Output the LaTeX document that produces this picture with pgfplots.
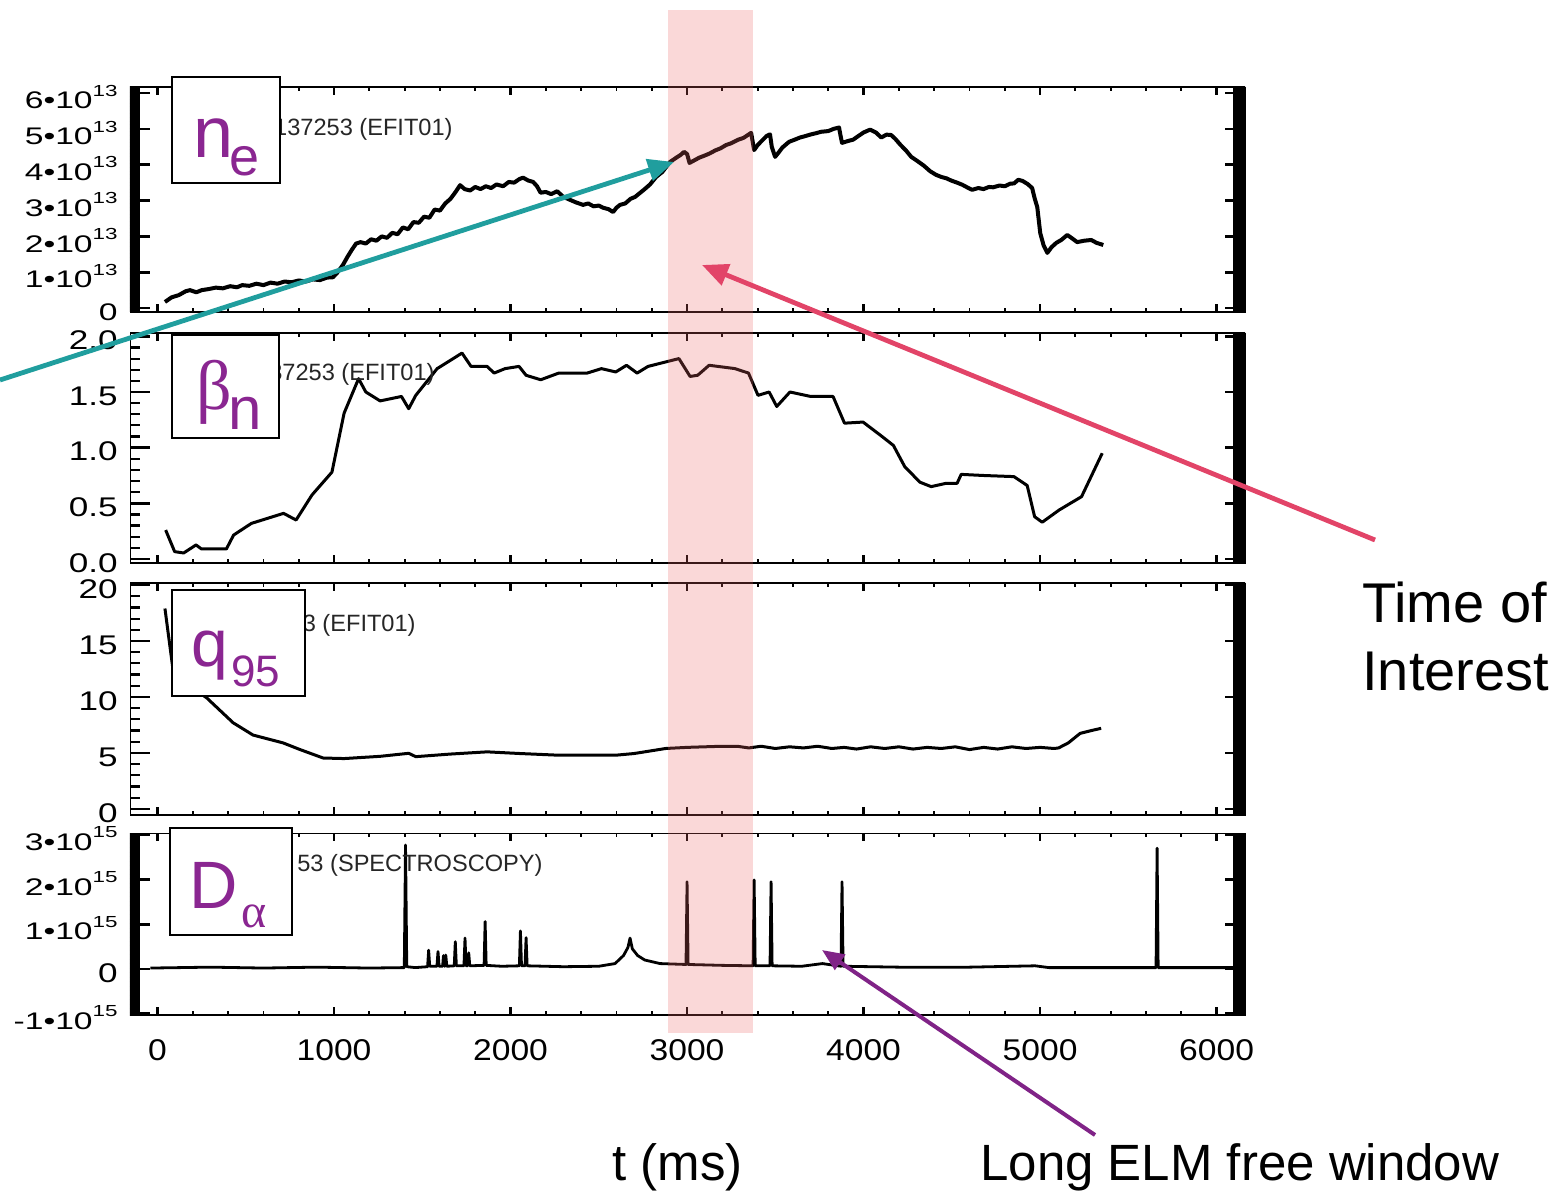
\documentclass[border=0pt]{standalone}
\usepackage{fontspec}
\setmainfont{Liberation Sans}
\newfontfamily\serifgr{Liberation Serif}
\usepackage{graphicx}
\usepackage{pgfplots}
\pgfplotsset{compat=1.18}
\usetikzlibrary{arrows.meta}
\definecolor{lblpurple}{RGB}{138,38,145}
\definecolor{tealarrow}{RGB}{32,158,158}
\definecolor{redarrow}{RGB}{226,68,104}
\definecolor{purparrow}{RGB}{128,35,135}
\definecolor{bandcol}{RGB}{235,100,100}
\newcommand{\yl}[1]{\scalebox{1.3}[1]{\fontsize{13.5}{13.5}\selectfont #1}}
\newcommand{\yls}[1]{\scalebox{1.4}[1]{\fontsize{12}{12}\selectfont #1}}
\newcommand{\sci}[2]{\scalebox{1.4}[1]{\fontsize{12}{12}\selectfont #1•10\raisebox{6.3pt}{\fontsize{8}{8}\selectfont #2}}}
\newcommand{\xl}[1]{\scalebox{1.12}[1]{\fontsize{15}{15}\selectfont #1}}
% IDL-style short x ticks on bottom (#1 = ymin) and top (#2 = ymax)
\newcommand{\xticksIDL}[2]{%
  \pgfplotsinvokeforeach{0,1000,2000,3000,4000,5000,6000}{%
    \draw[line width=1.2pt] (axis cs:##1,#1) -- ([yshift=4pt]axis cs:##1,#1);
    \draw[line width=1.2pt] (axis cs:##1,#2) -- ([yshift=-4pt]axis cs:##1,#2);
  }%
  \pgfplotsinvokeforeach{200,400,600,800,1200,1400,1600,1800,2200,2400,2600,2800,3200,3400,3600,3800,4200,4400,4600,4800,5200,5400,5600,5800}{%
    \draw[line width=0.9pt] (axis cs:##1,#1) -- ([yshift=2pt]axis cs:##1,#1);
    \draw[line width=0.9pt] (axis cs:##1,#2) -- ([yshift=-2pt]axis cs:##1,#2);
  }%
  \draw[line width=1.4pt] (rel axis cs:0,0) rectangle (rel axis cs:1,1);
  \fill ([xshift=-6pt]rel axis cs:1,1) rectangle (rel axis cs:1,0);
}
\pgfplotsset{
  panel/.style={
    scale only axis, width=557.5pt, anchor=south west,
    xmin=-156, xmax=6161,
    xtick={0,1000,...,6000},
    major x tick style={draw=none},
    minor x tick num=0,
    tick align=inside,
    major tick style={black, line width=1.4pt},
    minor tick style={black, line width=1.1pt},
    major tick length=10pt, minor tick length=5pt,
    xticklabels={},
    yticklabel style={inner sep=0pt, xshift=-6pt, yshift=-2pt},
    every axis plot/.append style={black, line join=round},
  }
}
\begin{document}
\begin{tikzpicture}
\useasboundingbox (0,0) rectangle (779pt,595pt);

% ---------- panel 1: n_e ----------
\begin{axis}[panel, at={(65pt,439pt)}, height=112.5pt,
  ymin=-0.11, ymax=6.17, ytick={0,1,2,3,4,5,6},
  yticklabels={\yls{0},\sci{1}{13},\sci{2}{13},\sci{3}{13},\sci{4}{13},\sci{5}{13},\sci{6}{13}},
  minor y tick num=9]
\addplot[line width=2pt] coordinates {
(42,0.17)(80,0.30)(120,0.36)(160,0.47)(184,0.50)(220,0.44)(250,0.50)(290,0.53)(330,0.57)
(370,0.55)(411,0.61)(450,0.58)(480,0.64)(520,0.62)(560,0.68)(600,0.64)(640,0.71)(680,0.68)
(720,0.74)(760,0.72)(800,0.77)(840,0.74)(880,0.80)(920,0.78)(960,0.85)(994,0.86)(1017,0.98)
(1050,1.20)(1075,1.42)(1100,1.62)(1125,1.80)(1150,1.84)(1180,1.80)(1210,1.92)(1240,1.88)
(1270,2.00)(1300,1.96)(1330,2.10)(1360,2.06)(1390,2.25)(1420,2.20)(1450,2.40)(1480,2.38)
(1510,2.55)(1540,2.52)(1570,2.75)(1600,2.72)(1630,2.92)(1660,3.05)(1690,3.25)(1714,3.43)
(1740,3.32)(1771,3.28)(1800,3.38)(1830,3.32)(1860,3.40)(1890,3.35)(1920,3.45)(1958,3.40)
(1990,3.52)(2020,3.50)(2050,3.60)(2071,3.64)(2100,3.56)(2128,3.52)(2150,3.40)(2170,3.22)
(2200,3.24)(2230,3.18)(2264,3.26)(2300,3.10)(2337,3.02)(2370,2.95)(2411,2.88)(2440,2.92)
(2470,2.84)(2500,2.86)(2524,2.80)(2555,2.76)(2581,2.68)(2600,2.80)(2620,2.88)(2650,2.92)
(2680,3.05)(2705,3.10)(2730,3.20)(2760,3.32)(2790,3.45)(2825,3.66)(2860,3.80)(2904,4.08)
(2940,4.20)(2965,4.28)(2983,4.36)(3000,4.30)(3014,4.05)(3040,4.12)(3070,4.20)(3102,4.26)
(3130,4.32)(3160,4.40)(3190,4.46)(3221,4.55)(3250,4.60)(3290,4.70)(3320,4.75)(3363,4.89)
(3380,4.41)(3400,4.55)(3430,4.70)(3450,4.80)(3470,4.85)(3480,4.50)(3499,4.22)(3520,4.35)
(3540,4.48)(3578,4.64)(3610,4.70)(3640,4.76)(3670,4.80)(3697,4.84)(3730,4.88)(3760,4.92)
(3800,4.94)(3830,5.00)(3861,5.04)(3870,4.80)(3878,4.61)(3910,4.66)(3941,4.70)(3970,4.80)
(4000,4.90)(4037,4.98)(4070,4.90)(4100,4.76)(4130,4.84)(4156,4.83)(4180,4.72)(4210,4.55)
(4240,4.40)(4270,4.22)(4300,4.12)(4340,3.98)(4377,3.82)(4410,3.72)(4440,3.66)(4470,3.62)
(4496,3.56)(4530,3.50)(4560,3.44)(4590,3.36)(4615,3.30)(4650,3.35)(4680,3.32)(4710,3.38)
(4734,3.37)(4770,3.42)(4800,3.40)(4830,3.47)(4853,3.48)(4876,3.58)(4900,3.55)(4930,3.46)
(4955,3.35)(4970,3.05)(4984,2.82)(5001,2.09)(5020,1.75)(5041,1.54)(5065,1.70)(5092,1.82)
(5120,1.90)(5154,2.04)(5180,1.95)(5210,1.84)(5250,1.88)(5290,1.90)(5320,1.82)(5358,1.76)};
\xticksIDL{-0.11}{6.17}
\fill ([xshift=5pt]rel axis cs:0,1) rectangle (rel axis cs:0,0);
\end{axis}

% ---------- panel 2: beta_n ----------
\begin{axis}[panel, at={(65pt,313.5pt)}, height=115pt,
  ymin=-0.036, ymax=2.03, ytick={0,0.5,1,1.5,2},
  yticklabels={\yl{0.0},\yl{0.5},\yl{1.0},\yl{1.5},\yl{2.0}},
  minor y tick num=4]
\addplot[line width=1.5pt] coordinates {
(46,0.26)(97,0.066)(148,0.054)(218,0.126)(249,0.09)(390,0.09)(431,0.215)(532,0.32)
(714,0.41)(785,0.35)(875,0.575)(988,0.78)(1057,1.31)(1139,1.62)(1180,1.50)(1261,1.42)
(1382,1.46)(1423,1.35)(1463,1.47)(1584,1.71)(1665,1.79)(1725,1.85)(1776,1.73)(1867,1.73)
(1907,1.67)(1969,1.71)(2048,1.73)(2088,1.65)(2171,1.61)(2273,1.67)(2434,1.67)(2515,1.71)
(2596,1.68)(2657,1.74)(2717,1.67)(2779,1.73)(2879,1.77)(2954,1.80)(3017,1.64)(3060,1.65)
(3125,1.74)(3272,1.71)(3348,1.67)(3402,1.47)(3465,1.50)(3508,1.37)(3583,1.50)(3700,1.46)
(3827,1.46)(3892,1.22)(3997,1.23)(4105,1.10)(4169,1.02)(4233,0.83)(4319,0.69)(4383,0.65)
(4468,0.68)(4530,0.68)(4553,0.76)(4681,0.75)(4852,0.74)(4927,0.66)(4969,0.38)(5012,0.33)
(5108,0.44)(5235,0.56)(5352,0.95)};
\xticksIDL{-0.036}{2.03}
\end{axis}

% ---------- panel 3: q95 ----------
\begin{axis}[panel, at={(65pt,187.5pt)}, height=116pt,
  ymin=-0.54, ymax=20.18, ytick={0,5,10,15,20},
  yticklabels={\yl{0},\yl{5},\yl{10},\yl{15},\yl{20}},
  minor y tick num=4]
\addplot[line width=1.5pt] coordinates {
(42,17.9)(88,12.4)(184,11.0)(280,9.9)(428,7.7)(541,6.6)(711,5.9)(808,5.3)(938,4.55)
(1057,4.5)(1261,4.7)(1423,4.97)(1463,4.67)(1657,4.9)(1867,5.1)(2054,4.95)(2273,4.8)
(2596,4.8)(2700,4.95)(2879,5.4)(3000,5.5)(3100,5.55)(3200,5.6)(3283,5.6)(3350,5.45)
(3420,5.6)(3500,5.4)(3580,5.55)(3660,5.45)(3740,5.6)(3820,5.4)(3890,5.5)(3960,5.35)
(4040,5.55)(4120,5.4)(4200,5.55)(4280,5.35)(4360,5.5)(4440,5.4)(4520,5.55)(4600,5.3)
(4680,5.5)(4760,5.35)(4840,5.55)(4920,5.4)(5000,5.5)(5080,5.4)(5105,5.45)(5160,5.9)
(5227,6.75)(5290,7.0)(5346,7.2)};
\xticksIDL{-0.54}{20.18}
\end{axis}

% ---------- panel 4: D_alpha ----------
\begin{axis}[panel, at={(65pt,87.5pt)}, height=91pt,
  ymin=-1.03, ymax=3.04, ytick={-1,0,1,2,3},
  yticklabels={\sci{-1}{15},\yl{0},\sci{1}{15},\sci{2}{15},\sci{3}{15}},
  minor y tick num=9,
  xticklabels={\xl{0},\xl{1000},\xl{2000},\xl{3000},\xl{4000},\xl{5000},\xl{6000}},
  xticklabel style={inner sep=0pt, yshift=-12pt}]
\addplot[line width=1.4pt] coordinates {
(-40,0.02)(300,0.04)(600,0.02)(900,0.04)(1200,0.02)(1398,0.03)(1405,2.77)(1412,0.05)
(1460,0.03)(1530,0.05)(1536,0.42)(1542,0.06)(1583,0.06)(1589,0.39)(1595,0.06)(1615,0.06)
(1620,0.30)(1626,0.06)(1628,0.06)(1633,0.31)(1639,0.06)(1681,0.07)(1687,0.61)(1693,0.07)
(1736,0.07)(1742,0.69)(1748,0.07)(1757,0.07)(1763,0.36)(1769,0.07)(1850,0.08)(1856,1.06)
(1862,0.08)(1950,0.06)(2050,0.07)(2056,0.85)(2062,0.07)(2082,0.07)(2088,0.70)(2094,0.07)
(2300,0.05)(2500,0.06)(2592,0.12)(2640,0.30)(2665,0.48)(2677,0.69)(2690,0.45)(2720,0.30)
(2760,0.20)(2847,0.12)(2994,0.10)(3000,1.95)(3006,0.10)(3200,0.08)(3374,0.07)(3380,1.99)
(3386,0.07)(3470,0.07)(3476,1.95)(3482,0.07)(3650,0.06)(3767,0.12)(3872,0.06)(3878,1.95)
(3884,0.06)(4200,0.04)(4600,0.04)(4972,0.07)(5050,0.03)(5657,0.03)(5663,2.70)(5669,0.03)
(5800,0.03)(6100,0.03)};
\xticksIDL{-1.03}{3.04}
\fill ([xshift=5pt]rel axis cs:0,1) rectangle (rel axis cs:0,0);
\coordinate (bandA) at (axis cs:2892,-1.43);
\coordinate (bandB) at (axis cs:3374,21.45);
\end{axis}

% ---------- in-panel captions (visible parts) ----------
\begin{scope}[every node/.style={inner sep=0pt, text=black!85, font=\fontsize{11.8}{11.8}\selectfont}]
\node[anchor=base east] at (226.5pt,527pt) {137253 (EFIT01)};
\node[anchor=base east] at (217.5pt,404.75pt) {37253 (EFIT01)};
\node[anchor=base east] at (208pt,279.25pt) {3 (EFIT01)};
\node[anchor=base east] at (271.5pt,159.25pt) {53 (SPECTROSCOPY)};
\end{scope}

% ---------- label boxes ----------
\draw[fill=white, line width=0.8pt] (86pt,503.5pt) rectangle (140pt,556.5pt);
\draw[fill=white, line width=0.8pt] (86pt,376pt) rectangle (139.5pt,427.5pt);
\draw[fill=white, line width=0.8pt] (86pt,247pt) rectangle (152.5pt,300pt);
\draw[fill=white, line width=0.8pt] (85pt,127.5pt) rectangle (146pt,181pt);
\begin{scope}[every node/.style={inner sep=0pt, anchor=base west, text=lblpurple}]
\node[font=\fontsize{36}{36}\selectfont] at (96.5pt,516pt) {n};
\node[font=\fontsize{27}{27}\selectfont] at (114.5pt,507pt) {e};
\node[font=\serifgr\fontsize{35}{35}\selectfont] at (98pt,390pt) {β};
\node[font=\fontsize{30}{30}\selectfont] at (114pt,380pt) {n};
\node[font=\fontsize{33}{33}\selectfont] at (95.5pt,261.5pt) {q};
\node[font=\fontsize{22}{22}\selectfont] at (115.5pt,251.5pt) {95};
\node[font=\fontsize{33.5}{33.5}\selectfont] at (94.5pt,141pt) {D};
\node[font=\serifgr\fontsize{24}{24}\selectfont] at (120.5pt,131.5pt) {α};
\end{scope}

% ---------- time-of-interest band ----------
\fill[bandcol, opacity=0.25] (bandA) rectangle (bandB);

% ---------- arrows ----------
\draw[tealarrow, line width=2.4pt, -{Triangle[length=13pt,width=11pt]}] (0pt,405pt) -- (337pt,514pt);
\draw[redarrow, line width=2.4pt, -{Triangle[length=13pt,width=11pt]}] (687.5pt,325pt) -- (351pt,462.5pt);
\draw[purparrow, line width=2pt, -{Triangle[length=11pt,width=9pt]}] (547.5pt,27.5pt) -- (411pt,120pt);

% ---------- annotations ----------
\begin{scope}[every node/.style={inner sep=0pt, anchor=base west}]
\node[font=\fontsize{28}{28}\selectfont] at (681pt,283.5pt) {Time of};
\node[font=\fontsize{28}{28}\selectfont] at (681pt,249.5pt) {Interest};
\node[font=\fontsize{25.5}{25.5}\selectfont] at (306pt,5pt) {t (ms)};
\node[font=\fontsize{25.5}{25.5}\selectfont] at (490pt,5pt) {Long ELM free window};
\end{scope}
\end{tikzpicture}
\end{document}
